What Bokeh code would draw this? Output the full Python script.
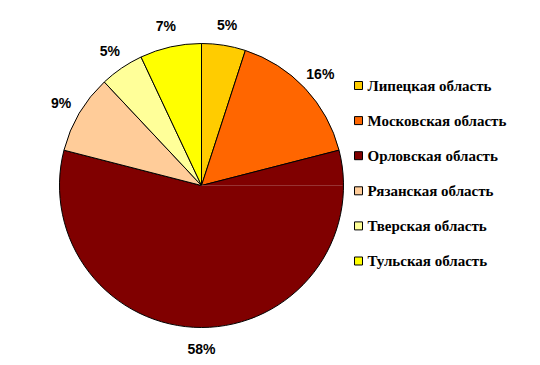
import math
from bokeh.plotting import figure
from bokeh.models import Range1d, ColumnDataSource
from bokeh.core.properties import value
from bokeh.embed import file_html
from bokeh.resources import INLINE

regions = ["Липецкая область", "Московская область", "Орловская область",
           "Рязанская область", "Тверская область", "Тульская область"]
shares = [5, 16, 58, 9, 5, 7]
colors = ["#FFCC00", "#FF6600", "#800000", "#FFCC99", "#FFFF99", "#FFFF00"]

W, H = 540, 365
cx, cy, R = 201, H - 185, 142
total = sum(shares)

starts, ends, lx, ly, labels = [], [], [], [], []
cum = 0.0
for s in shares:
    a0 = math.pi / 2 - 2 * math.pi * cum / total
    a1 = math.pi / 2 - 2 * math.pi * (cum + s) / total
    starts.append(a0)
    ends.append(a1)
    mid = (a0 + a1) / 2
    rl = R + 21
    lx.append(cx + rl * math.cos(mid))
    ly.append(cy + rl * math.sin(mid))
    labels.append(f"{s}%")
    cum += s

p = figure(width=W, height=H, output_backend="svg", toolbar_location=None,
           x_range=Range1d(0, W), y_range=Range1d(0, H), min_border=0)
p.axis.visible = False
p.grid.visible = False
p.outline_line_color = None
p.background_fill_color = "white"

src = ColumnDataSource(dict(s=starts, e=ends, c=colors))
p.wedge(x=cx, y=cy, radius=R, start_angle="s", end_angle="e", direction="clock",
        fill_color="c", line_color="black", line_width=1, source=src)
# faint seam line seen in the reference
p.ray(x=[cx], y=[cy], length=R - 1, angle=0, line_color="#9c4040", line_width=1,
      line_alpha=0.8)

p.text(x=lx, y=ly, text=labels, text_align="center", text_baseline="middle",
       text_font=value("Liberation Sans"), text_font_style="bold",
       text_font_size="14px", text_color="black")

# legend
leg_y = [H - (85 + 35.1 * i) for i in range(len(regions))]
p.rect(x=[358] * len(regions), y=leg_y, width=8, height=8, fill_color=colors,
       line_color="black", line_width=1)
p.text(x=[367] * len(regions), y=leg_y, text=regions, text_align="left",
       text_baseline="middle", text_font=value("Liberation Serif"),
       text_font_style="bold", text_font_size="15px", text_color="black")

open("out.html", "w").write(file_html(p, INLINE))
